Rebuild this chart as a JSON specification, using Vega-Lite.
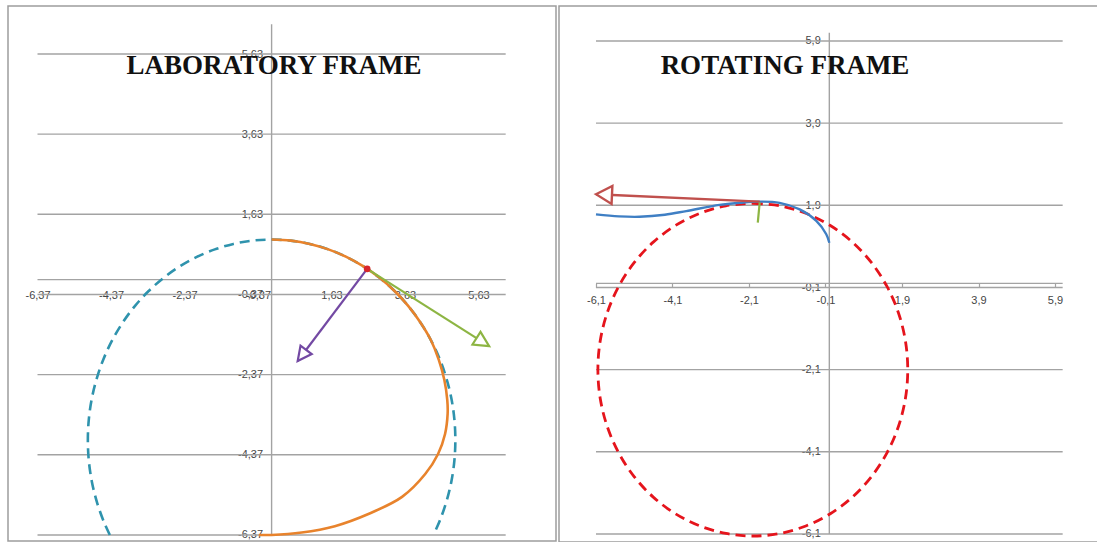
{
  "$schema": "https://vega.github.io/schema/vega-lite/v6.json",
  "background": "white",
  "padding": {"left": 7, "top": 5, "right": 0, "bottom": 0},
  "spacing": 1,
  "datasets": {
    "labGrid": [
      {"y": 5.63}, {"y": 3.63}, {"y": 1.63}, {"y": 0}, {"y": -0.37},
      {"y": -2.37}, {"y": -4.37}, {"y": -6.37}
    ],
    "labCircle": [
      {"i": 0, "x": -4.402, "y": -6.37}, {"i": 1, "x": -4.568, "y": -6.034},
      {"i": 2, "x": -4.755, "y": -5.545}, {"i": 3, "x": -4.891, "y": -5.04},
      {"i": 4, "x": -4.973, "y": -4.523}, {"i": 5, "x": -5, "y": -4},
      {"i": 6, "x": -4.973, "y": -3.477}, {"i": 7, "x": -4.891, "y": -2.96},
      {"i": 8, "x": -4.755, "y": -2.455}, {"i": 9, "x": -4.568, "y": -1.966},
      {"i": 10, "x": -4.33, "y": -1.5}, {"i": 11, "x": -4.045, "y": -1.061},
      {"i": 12, "x": -3.716, "y": -0.654}, {"i": 13, "x": -3.346, "y": -0.284},
      {"i": 14, "x": -2.939, "y": 0.045}, {"i": 15, "x": -2.5, "y": 0.33},
      {"i": 16, "x": -2.034, "y": 0.568}, {"i": 17, "x": -1.545, "y": 0.755},
      {"i": 18, "x": -1.04, "y": 0.891}, {"i": 19, "x": -0.523, "y": 0.973},
      {"i": 20, "x": 0, "y": 1},
      {"i": 21, "x": 0.523, "y": 0.973}, {"i": 22, "x": 1.04, "y": 0.891},
      {"i": 23, "x": 1.545, "y": 0.755}, {"i": 24, "x": 2.034, "y": 0.568},
      {"i": 25, "x": 2.5, "y": 0.33}, {"i": 26, "x": 2.939, "y": 0.045},
      {"i": 27, "x": 3.346, "y": -0.284}, {"i": 28, "x": 3.716, "y": -0.654},
      {"i": 29, "x": 4.045, "y": -1.061}, {"i": 30, "x": 4.33, "y": -1.5},
      {"i": 31, "x": 4.568, "y": -1.966}, {"i": 32, "x": 4.755, "y": -2.455},
      {"i": 33, "x": 4.891, "y": -2.96}, {"i": 34, "x": 4.973, "y": -3.477},
      {"i": 35, "x": 5, "y": -4}, {"i": 36, "x": 4.973, "y": -4.523},
      {"i": 37, "x": 4.891, "y": -5.04}, {"i": 38, "x": 4.755, "y": -5.545},
      {"i": 39, "x": 4.568, "y": -6.034}, {"i": 40, "x": 4.402, "y": -6.37}
    ],
    "labPath": [
      {"i": 0, "x": 0, "y": 1}, {"i": 1, "x": 0.523, "y": 0.973},
      {"i": 2, "x": 1.04, "y": 0.891}, {"i": 3, "x": 1.545, "y": 0.755},
      {"i": 4, "x": 2.034, "y": 0.568}, {"i": 5, "x": 2.5, "y": 0.33},
      {"i": 6, "x": 2.939, "y": 0.045}, {"i": 7, "x": 3.346, "y": -0.284},
      {"i": 8, "x": 3.716, "y": -0.654}, {"i": 9, "x": 4.045, "y": -1.061},
      {"i": 10, "x": 4.33, "y": -1.5}, {"i": 11, "x": 4.55, "y": -2.0},
      {"i": 12, "x": 4.7, "y": -2.5}, {"i": 13, "x": 4.78, "y": -3.0},
      {"i": 14, "x": 4.79, "y": -3.35}, {"i": 15, "x": 4.72, "y": -3.85},
      {"i": 16, "x": 4.53, "y": -4.35}, {"i": 17, "x": 4.18, "y": -4.85},
      {"i": 18, "x": 3.55, "y": -5.42}, {"i": 19, "x": 2.65, "y": -5.84},
      {"i": 20, "x": 1.72, "y": -6.15}, {"i": 21, "x": 0.82, "y": -6.31},
      {"i": 22, "x": 0, "y": -6.37}, {"i": 23, "x": -0.35, "y": -6.37}
    ],
    "labParticle": [{"x": 2.6, "y": 0.27}],
    "labArrows": [
      {"arrow": "velocity", "i": 0, "x": 2.6, "y": 0.27},
      {"arrow": "velocity", "i": 1, "x": 5.92, "y": -1.66},
      {"arrow": "acceleration", "i": 0, "x": 2.6, "y": 0.27},
      {"arrow": "acceleration", "i": 1, "x": 0.71, "y": -2.03}
    ],
    "rotGrid": [
      {"y": 5.9}, {"y": 3.9}, {"y": 1.9}, {"y": 0}, {"y": -0.1},
      {"y": -2.1}, {"y": -4.1}, {"y": -6.1}
    ],
    "rotCircle": [
      {"i": 0, "x": -2, "y": 1.95}, {"i": 1, "x": -1.297, "y": 1.889},
      {"i": 2, "x": -0.615, "y": 1.706}, {"i": 3, "x": 0.025, "y": 1.407},
      {"i": 4, "x": 0.603, "y": 1.003}, {"i": 5, "x": 1.103, "y": 0.503},
      {"i": 6, "x": 1.507, "y": -0.075}, {"i": 7, "x": 1.806, "y": -0.715},
      {"i": 8, "x": 1.989, "y": -1.397}, {"i": 9, "x": 2.05, "y": -2.1},
      {"i": 10, "x": 1.989, "y": -2.803}, {"i": 11, "x": 1.806, "y": -3.485},
      {"i": 12, "x": 1.507, "y": -4.125}, {"i": 13, "x": 1.103, "y": -4.703},
      {"i": 14, "x": 0.603, "y": -5.203}, {"i": 15, "x": 0.025, "y": -5.607},
      {"i": 16, "x": -0.615, "y": -5.906}, {"i": 17, "x": -1.297, "y": -6.089},
      {"i": 18, "x": -2, "y": -6.15}, {"i": 19, "x": -2.703, "y": -6.089},
      {"i": 20, "x": -3.385, "y": -5.906}, {"i": 21, "x": -4.025, "y": -5.607},
      {"i": 22, "x": -4.603, "y": -5.203}, {"i": 23, "x": -5.103, "y": -4.703},
      {"i": 24, "x": -5.507, "y": -4.125}, {"i": 25, "x": -5.806, "y": -3.485},
      {"i": 26, "x": -5.989, "y": -2.803}, {"i": 27, "x": -6.05, "y": -2.1},
      {"i": 28, "x": -5.989, "y": -1.397}, {"i": 29, "x": -5.806, "y": -0.715},
      {"i": 30, "x": -5.507, "y": -0.075}, {"i": 31, "x": -5.103, "y": 0.503},
      {"i": 32, "x": -4.603, "y": 1.003}, {"i": 33, "x": -4.025, "y": 1.407},
      {"i": 34, "x": -3.385, "y": 1.706}, {"i": 35, "x": -2.703, "y": 1.889},
      {"i": 36, "x": -2, "y": 1.95}
    ],
    "rotPath": [
      {"i": 0, "x": -6.1, "y": 1.68}, {"i": 1, "x": -5.5, "y": 1.63},
      {"i": 2, "x": -4.96, "y": 1.62}, {"i": 3, "x": -4.3, "y": 1.67},
      {"i": 4, "x": -3.74, "y": 1.76}, {"i": 5, "x": -2.87, "y": 1.91},
      {"i": 6, "x": -2.34, "y": 1.96}, {"i": 7, "x": -1.82, "y": 1.99},
      {"i": 8, "x": -1.3, "y": 1.96}, {"i": 9, "x": -0.775, "y": 1.8},
      {"i": 10, "x": -0.34, "y": 1.52}, {"i": 11, "x": -0.08, "y": 1.195},
      {"i": 12, "x": 0, "y": 0.99}
    ],
    "rotArrows": [
      {"arrow": "velocity", "i": 0, "x": -1.82, "y": 1.99},
      {"arrow": "velocity", "i": 1, "x": -6.1, "y": 2.17},
      {"arrow": "acceleration", "i": 0, "x": -1.82, "y": 1.97},
      {"arrow": "acceleration", "i": 1, "x": -1.87, "y": 1.48}
    ]
  },
  "hconcat": [
    {
      "width": 548,
      "height": 535,
      "title": {
        "text": "LABORATORY FRAME",
        "anchor": "middle",
        "dx": -8,
        "offset": -95,
        "baseline": "alphabetic",
        "font": "Liberation Serif",
        "fontSize": 27,
        "fontWeight": "bold",
        "color": "#111111"
      },
      "layer": [
        {
          "data": {"name": "labGrid"},
          "mark": {"type": "rule", "color": "#a3a3a3", "strokeWidth": 1.4},
          "encoding": {
            "y": {
              "field": "y",
              "type": "quantitative",
              "scale": {"domain": [-6.521, 6.828], "nice": false, "zero": false},
              "axis": {
                "values": [-6.37, -4.37, -2.37, -0.37, 1.63, 3.63, 5.63],
                "format": ".2f",
                "offset": -263.6,
                "domain": false,
                "ticks": false,
                "tickSize": 0,
                "grid": false,
                "labelPadding": 9,
                "labelOverlap": false,
                "labelFlush": false,
                "title": null
              }
            },
            "x": {
              "datum": -6.37,
              "type": "quantitative",
              "scale": {"domain": [-7.173, 7.739], "nice": false, "zero": false},
              "axis": {
                "values": [-6.37, -4.37, -2.37, -0.37, 1.63, 3.63, 5.63],
                "format": ".2f",
                "offset": -261.35,
                "domain": false,
                "ticks": false,
                "tickSize": 0,
                "grid": false,
                "labelPadding": 10,
                "labelOverlap": false,
                "labelFlush": false,
                "title": null
              }
            },
            "x2": {"datum": 6.37}
          }
        },
        {
          "data": {"values": [{"x": 0}]},
          "mark": {"type": "rule", "color": "#a3a3a3", "strokeWidth": 1.4},
          "encoding": {
            "x": {"field": "x", "type": "quantitative"},
            "y": {"datum": -6.37, "type": "quantitative"},
            "y2": {"datum": 6.37}
          }
        },
        {
          "data": {"name": "labCircle"},
          "mark": {"type": "line", "color": "#2f93ad", "strokeWidth": 2.6, "strokeDash": [10, 6], "interpolate": "catmull-rom"},
          "encoding": {
            "x": {"field": "x", "type": "quantitative"},
            "y": {"field": "y", "type": "quantitative"},
            "order": {"field": "i", "type": "quantitative"}
          }
        },
        {
          "data": {"name": "labPath"},
          "mark": {"type": "line", "color": "#e8832c", "strokeWidth": 2.6, "interpolate": "catmull-rom"},
          "encoding": {
            "x": {"field": "x", "type": "quantitative"},
            "y": {"field": "y", "type": "quantitative"},
            "order": {"field": "i", "type": "quantitative"}
          }
        },
        {
          "data": {"name": "labArrows"},
          "transform": [{"filter": "datum.arrow == 'velocity'"}],
          "mark": {"type": "line", "color": "#8db543", "strokeWidth": 2.2},
          "encoding": {
            "x": {"field": "x", "type": "quantitative"},
            "y": {"field": "y", "type": "quantitative"},
            "order": {"field": "i", "type": "quantitative"}
          }
        },
        {
          "data": {"name": "labArrows"},
          "transform": [{"filter": "datum.arrow == 'acceleration'"}],
          "mark": {"type": "line", "color": "#7349a3", "strokeWidth": 2.2},
          "encoding": {
            "x": {"field": "x", "type": "quantitative"},
            "y": {"field": "y", "type": "quantitative"},
            "order": {"field": "i", "type": "quantitative"}
          }
        },
        {
          "data": {"name": "labArrows"},
          "transform": [{"filter": "datum.arrow == 'velocity' && datum.i == 1"}],
          "mark": {"type": "point", "shape": "M0,0L0.5,1L-0.5,1Z", "size": 900, "angle": 122.4, "filled": true, "fill": "white", "stroke": "#8db543", "strokeWidth": 2.2, "opacity": 1},
          "encoding": {
            "x": {"field": "x", "type": "quantitative"},
            "y": {"field": "y", "type": "quantitative"}
          }
        },
        {
          "data": {"name": "labArrows"},
          "transform": [{"filter": "datum.arrow == 'acceleration' && datum.i == 1"}],
          "mark": {"type": "point", "shape": "M0,0L0.5,1L-0.5,1Z", "size": 784, "angle": 217, "filled": true, "fill": "white", "stroke": "#7349a3", "strokeWidth": 2.2, "opacity": 1},
          "encoding": {
            "x": {"field": "x", "type": "quantitative"},
            "y": {"field": "y", "type": "quantitative"}
          }
        },
        {
          "data": {"name": "labParticle"},
          "mark": {"type": "point", "shape": "circle", "size": 45, "filled": true, "color": "#d8262c", "opacity": 1},
          "encoding": {
            "x": {"field": "x", "type": "quantitative"},
            "y": {"field": "y", "type": "quantitative"}
          }
        }
      ]
    },
    {
      "width": 540,
      "height": 536,
      "title": {
        "text": "ROTATING FRAME",
        "anchor": "middle",
        "dx": -44,
        "offset": -95,
        "baseline": "alphabetic",
        "font": "Liberation Serif",
        "fontSize": 27,
        "fontWeight": "bold",
        "color": "#111111"
      },
      "layer": [
        {
          "data": {"name": "rotGrid"},
          "mark": {"type": "rule", "color": "#a3a3a3", "strokeWidth": 1.4},
          "encoding": {
            "y": {
              "field": "y",
              "type": "quantitative",
              "scale": {"domain": [-6.296, 6.752], "nice": false, "zero": false},
              "axis": {
                "values": [-6.1, -4.1, -2.1, -0.1, 1.9, 3.9, 5.9],
                "format": ".1f",
                "offset": -270.3,
                "domain": false,
                "ticks": false,
                "tickSize": 0,
                "grid": false,
                "labelPadding": 9,
                "labelOverlap": false,
                "labelFlush": false,
                "title": null
              }
            },
            "x": {
              "datum": -6.1,
              "type": "quantitative",
              "scale": {"domain": [-7.067, 7.05], "nice": false, "zero": false},
              "axis": {
                "values": [-6.1, -4.1, -2.1, -0.1, 1.9, 3.9, 5.9],
                "format": ".1f",
                "offset": -258.6,
                "domain": false,
                "ticks": true,
                "tickSize": 4,
                "tickColor": "#a3a3a3",
                "tickWidth": 1.2,
                "grid": false,
                "labelPadding": 7,
                "labelOverlap": false,
                "labelFlush": false,
                "title": null
              }
            },
            "x2": {"datum": 6.1}
          }
        },
        {
          "data": {"values": [{"x": 0}]},
          "mark": {"type": "rule", "color": "#a3a3a3", "strokeWidth": 1.4},
          "encoding": {
            "x": {"field": "x", "type": "quantitative"},
            "y": {"datum": -6.1, "type": "quantitative"},
            "y2": {"datum": 6.1}
          }
        },
        {
          "data": {"name": "rotCircle"},
          "mark": {"type": "line", "color": "#e5141c", "strokeWidth": 2.8, "strokeDash": [10, 6], "interpolate": "catmull-rom"},
          "encoding": {
            "x": {"field": "x", "type": "quantitative"},
            "y": {"field": "y", "type": "quantitative"},
            "order": {"field": "i", "type": "quantitative"}
          }
        },
        {
          "data": {"name": "rotPath"},
          "mark": {"type": "line", "color": "#3f7fc4", "strokeWidth": 2.4, "interpolate": "catmull-rom"},
          "encoding": {
            "x": {"field": "x", "type": "quantitative"},
            "y": {"field": "y", "type": "quantitative"},
            "order": {"field": "i", "type": "quantitative"}
          }
        },
        {
          "data": {"name": "rotArrows"},
          "transform": [{"filter": "datum.arrow == 'velocity'"}],
          "mark": {"type": "line", "color": "#c0504d", "strokeWidth": 2.4},
          "encoding": {
            "x": {"field": "x", "type": "quantitative"},
            "y": {"field": "y", "type": "quantitative"},
            "order": {"field": "i", "type": "quantitative"}
          }
        },
        {
          "data": {"name": "rotArrows"},
          "transform": [{"filter": "datum.arrow == 'acceleration'"}],
          "mark": {"type": "line", "color": "#8db543", "strokeWidth": 2.2},
          "encoding": {
            "x": {"field": "x", "type": "quantitative"},
            "y": {"field": "y", "type": "quantitative"},
            "order": {"field": "i", "type": "quantitative"}
          }
        },
        {
          "data": {"name": "rotArrows"},
          "transform": [{"filter": "datum.arrow == 'velocity' && datum.i == 1"}],
          "mark": {"type": "point", "shape": "M0,0L0.56,1L-0.56,1Z", "size": 1024, "angle": 272.6, "filled": true, "fill": "white", "stroke": "#c0504d", "strokeWidth": 2.4, "opacity": 1},
          "encoding": {
            "x": {"field": "x", "type": "quantitative"},
            "y": {"field": "y", "type": "quantitative"}
          }
        }
      ]
    }
  ],
  "config": {
    "locale": {
      "number": {
        "decimal": ",",
        "thousands": ".",
        "grouping": [3],
        "currency": ["", " €"],
        "minus": "-"
      }
    },
    "view": {"stroke": "#9d9d9d", "strokeWidth": 1.5},
    "axis": {
      "labelFont": "Liberation Sans",
      "labelFontSize": 11,
      "labelColor": "#454545"
    }
  }
}
